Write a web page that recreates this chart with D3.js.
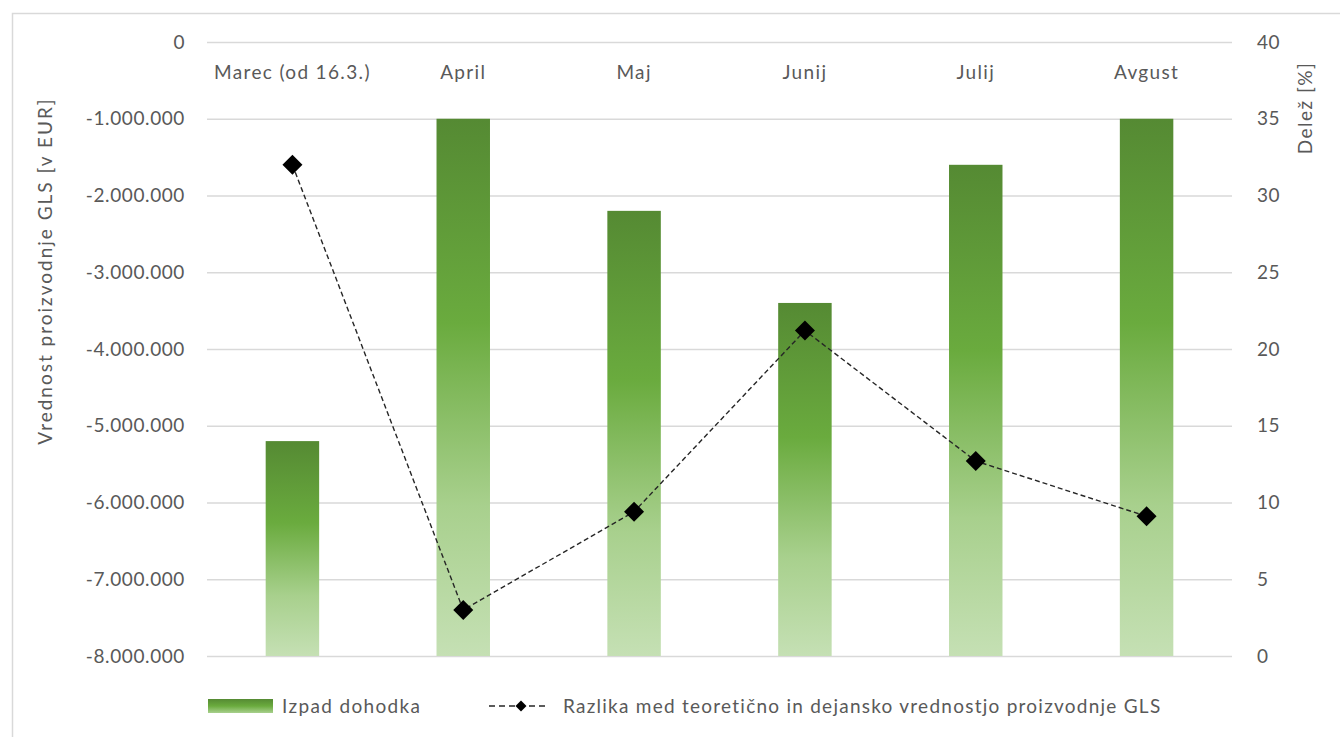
<!DOCTYPE html>
<html>
<head>
<meta charset="utf-8">
<script src="https://cdn.jsdelivr.net/npm/d3@7"></script>
<style>
  html, body { margin: 0; padding: 0; background: #fff; }
  svg { display: block; }
  text { font-family: Lato, "Open Sans", sans-serif; fill: #595959; }
</style>
</head>
<body>
<svg id="chart" width="1340" height="737"></svg>
<script>
// ---- data ----
const categories = ["Marec (od 16.3.)", "April", "Maj", "Junij", "Julij", "Avgust"];
const izpadDohodka = [-5200000, -1000000, -2200000, -3400000, -1600000, -1000000];
const razlika = [32.0, 3.0, 9.4, 21.2, 12.7, 9.1];
const leftTicks = [0, -1000000, -2000000, -3000000, -4000000, -5000000, -6000000, -7000000, -8000000];
const rightTicks = [0, 5, 10, 15, 20, 25, 30, 35, 40];
const seriesNames = ["Izpad dohodka", "Razlika med teoretično in dejansko vrednostjo proizvodnje GLS"];
const leftTitle = "Vrednost proizvodnje GLS [v EUR]";
const rightTitle = "Delež [%]";

// ---- layout ----
const W = 1340, H = 737;
const plot = { left: 207, right: 1232, top: 42, bottom: 656 };
const fontSize = 19;
const textSpacing = "1.35px";

const svg = d3.select("#chart");

// chart border
svg.append("rect")
  .attr("x", 12.5).attr("y", 13.5)
  .attr("width", W + 20).attr("height", H + 20)
  .attr("fill", "none").attr("stroke", "#d9d9d9").attr("stroke-width", 1.5);

const locale = d3.formatLocale({ decimal: ",", thousands: ".", grouping: [3], currency: ["", ""], minus: "-" });
const fmt = locale.format(",d");

const p = 0.687;
const x = d3.scaleBand().domain(categories).range([plot.left, plot.right])
  .paddingInner(p).paddingOuter(p / 2);
const yL = d3.scaleLinear().domain([-8000000, 0]).range([plot.bottom, plot.top]);
const yR = d3.scaleLinear().domain([0, 40]).range([plot.bottom, plot.top]);

// gradient
const defs = svg.append("defs");
const grad = defs.append("linearGradient").attr("id", "barGrad")
  .attr("x1", 0).attr("y1", 0).attr("x2", 0).attr("y2", 1);
[["0%", "#558a33"], ["38%", "#6aab3e"], ["72%", "#a8d08d"], ["100%", "#c5e0b4"]]
  .forEach(([o, c]) => grad.append("stop").attr("offset", o).attr("stop-color", c));
const lgrad = defs.append("linearGradient").attr("id", "legGrad")
  .attr("x1", 0).attr("y1", 0).attr("x2", 0).attr("y2", 1);
[["0%", "#558a33"], ["50%", "#6aab3e"], ["100%", "#a8d08d"]]
  .forEach(([o, c]) => lgrad.append("stop").attr("offset", o).attr("stop-color", c));

// gridlines via left axis
const gAxisL = svg.append("g").attr("transform", `translate(${plot.left},0)`)
  .call(d3.axisLeft(yL).tickValues(leftTicks).tickFormat(fmt)
    .tickSize(-(plot.right - plot.left)).tickPadding(22));
gAxisL.select(".domain").remove();
gAxisL.selectAll(".tick line").attr("stroke", "#d9d9d9").attr("stroke-width", 1.3);
gAxisL.selectAll(".tick text").style("font-size", fontSize + "px")
  .style("font-family", "Lato, sans-serif").style("letter-spacing", "0.6px").attr("fill", "#595959");

// right axis labels
const gAxisR = svg.append("g").attr("transform", `translate(${plot.right},0)`)
  .call(d3.axisRight(yR).tickValues(rightTicks).tickSize(0).tickPadding(25));
gAxisR.select(".domain").remove();
gAxisR.selectAll(".tick text").style("font-size", fontSize + "px")
  .style("font-family", "Lato, sans-serif").style("letter-spacing", "0.6px").attr("fill", "#595959");

// bars
svg.append("g").selectAll("rect").data(categories).join("rect")
  .attr("x", d => x(d))
  .attr("width", x.bandwidth())
  .attr("y", (d, i) => yL(izpadDohodka[i]))
  .attr("height", (d, i) => yL(-8000000) - yL(izpadDohodka[i]))
  .attr("fill", "url(#barGrad)");

// category labels (top)
const gAxisX = svg.append("g").attr("transform", `translate(0,${plot.top})`)
  .call(d3.axisBottom(x).tickSize(0).tickPadding(24));
gAxisX.select(".domain").remove();
gAxisX.selectAll(".tick text").style("font-size", fontSize + "px")
  .style("font-family", "Lato, sans-serif").style("letter-spacing", textSpacing).attr("fill", "#595959");

// line
const cx = d => x(d) + x.bandwidth() / 2;
const line = d3.line().x((d, i) => cx(categories[i])).y(d => yR(d));
svg.append("path").datum(razlika)
  .attr("d", line).attr("fill", "none")
  .attr("stroke", "#262626").attr("stroke-width", 1.4)
  .attr("stroke-dasharray", "5,3");

const diamond = d3.symbol().type(d3.symbolSquare).size(200);
svg.append("g").selectAll("path").data(razlika).join("path")
  .attr("d", diamond)
  .attr("transform", (d, i) => `translate(${cx(categories[i])},${yR(d)}) rotate(45)`)
  .attr("fill", "#000");

// axis titles
svg.append("text")
  .attr("transform", `translate(52,271) rotate(-90)`)
  .attr("text-anchor", "middle")
  .style("font-size", fontSize + "px")
  .style("letter-spacing", "2px")
  .text(leftTitle);
svg.append("text")
  .attr("transform", `translate(1312,108) rotate(-90)`)
  .attr("text-anchor", "middle")
  .style("font-size", fontSize + "px")
  .style("letter-spacing", "1.5px")
  .text(rightTitle);

// legend
const ly = 706;
svg.append("rect").attr("x", 208).attr("y", ly - 7).attr("width", 65).attr("height", 14)
  .attr("fill", "url(#legGrad)");
svg.append("text").attr("x", 282).attr("y", ly).attr("dy", "0.35em")
  .style("font-size", fontSize + "px").style("letter-spacing", textSpacing).text(seriesNames[0]);

svg.append("line").attr("x1", 489).attr("x2", 548).attr("y1", ly).attr("y2", ly)
  .attr("stroke", "#262626").attr("stroke-width", 1.4).attr("stroke-dasharray", "6,4");
svg.append("path").attr("d", d3.symbol().type(d3.symbolSquare).size(60)())
  .attr("transform", `translate(521,${ly}) rotate(45)`).attr("fill", "#000");
svg.append("text").attr("x", 563).attr("y", ly).attr("dy", "0.35em")
  .style("font-size", fontSize + "px").style("letter-spacing", "1.25px").text(seriesNames[1]);
</script>
</body>
</html>
